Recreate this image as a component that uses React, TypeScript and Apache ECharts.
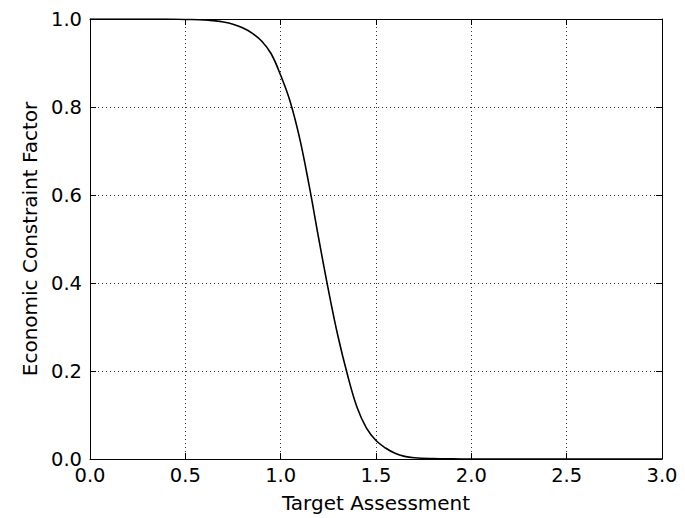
import React, { useEffect, useRef } from "react";
import * as echarts from "echarts";

const xValues = [0.0, 0.2, 0.4, 0.5, 0.6, 0.65, 0.7, 0.75, 0.8, 0.85, 0.9, 0.95, 1.0, 1.05, 1.1, 1.15, 1.2, 1.25, 1.3, 1.35, 1.4, 1.45, 1.5, 1.55, 1.6, 1.65, 1.7, 1.8, 1.9, 2.0, 2.5, 3.0];
const yValues = [1.0, 1.0, 1.0, 0.999, 0.998, 0.996, 0.993, 0.988, 0.980, 0.968, 0.950, 0.921, 0.872, 0.812, 0.728, 0.62, 0.5, 0.385, 0.28, 0.192, 0.118, 0.07, 0.042, 0.025, 0.013, 0.006, 0.003, 0.001, 0.0003, 0.0, 0.0, 0.0];

const xTitle = "Target Assessment";
const yTitle = "Economic Constraint Factor";

const FONT = "DejaVu Sans";

export default function App() {
  const ref = useRef<HTMLDivElement>(null);
  useEffect(() => {
    if (!ref.current) return;
    const chart = echarts.init(ref.current, undefined, { renderer: "svg" });
    const data = xValues.map((x, i) => [x, yValues[i]]);
    const axisLine = { show: true, onZero: false, lineStyle: { color: "#000", width: 1 } };
    const axisTick = { show: true, inside: true, length: 6, lineStyle: { color: "#000", width: 1 } };
    const splitLine = { show: true, lineStyle: { color: "#000", width: 0.8, type: [1, 3] as any } };
    const label = { color: "#000", fontFamily: FONT, fontSize: 19.5 };
    chart.setOption({
      animation: false,
      backgroundColor: "#fff",
      grid: { left: 90, top: 19, right: 23, bottom: 56, containLabel: false },
      xAxis: [
        {
          type: "value", min: 0, max: 3, interval: 0.5, position: "bottom",
          axisLine, axisTick, splitLine,
          axisLabel: { ...label, margin: 6, formatter: (v: number) => v.toFixed(1) },
          name: xTitle, nameLocation: "middle", nameGap: 34,
          nameTextStyle: { color: "#000", fontFamily: FONT, fontSize: 20 },
        },
        {
          type: "value", min: 0, max: 3, interval: 0.5, position: "top",
          axisLine, axisTick, splitLine: { show: false }, axisLabel: { show: false },
        },
      ],
      yAxis: [
        {
          type: "value", min: 0, max: 1, interval: 0.2, position: "left",
          axisLine, axisTick, splitLine,
          axisLabel: { ...label, margin: 8, formatter: (v: number) => v.toFixed(1) },
          name: yTitle, nameLocation: "middle", nameGap: 50, nameRotate: 90,
          nameTextStyle: { color: "#000", fontFamily: FONT, fontSize: 20 },
        },
        {
          type: "value", min: 0, max: 1, interval: 0.2, position: "right",
          axisLine, axisTick, splitLine: { show: false }, axisLabel: { show: false },
        },
      ],
      series: [
        {
          type: "line",
          data,
          showSymbol: false,
          smooth: 0.4,
          lineStyle: { color: "#000", width: 1.6 },
          xAxisIndex: 0,
          yAxisIndex: 0,
        },
      ],
    });
    return () => chart.dispose();
  }, []);
  return (
    <div
      ref={ref}
      style={{ position: "absolute", left: 0, top: 0, width: 685, height: 518 }}
    />
  );
}
